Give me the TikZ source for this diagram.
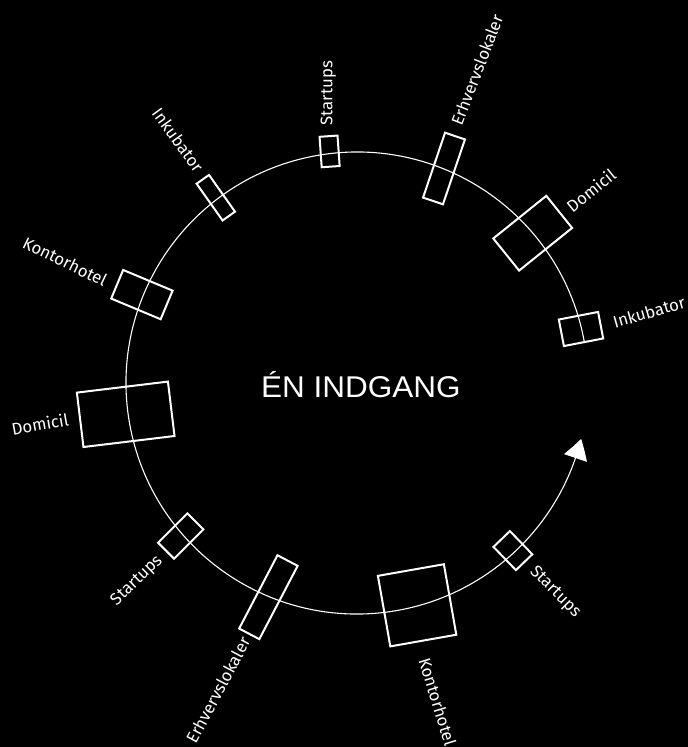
\documentclass[tikz,border=0pt]{standalone}
\usepackage{fontspec}
\setmainfont{Fira Sans}
\newfontfamily\titlefont{Liberation Sans}
\usetikzlibrary{arrows.meta,bending}
\begin{document}
\begin{tikzpicture}[x=1pt,y=1pt,
  rbox/.style 2 args={draw=white,line width=2pt,inner sep=0pt,minimum width=#1pt,minimum height=#2pt},
  lab/.style={text=white,inner sep=0pt,font=\fontsize{16.8}{18}\selectfont},
  ring/.style={draw=white,line width=1.1pt}]
\fill[black] (0,0) rectangle (688,-747);
\useasboundingbox (0,0) rectangle (688,-747);
\coordinate (c) at (357,-383);
\draw[ring,-{Triangle[length=20pt,width=24pt,bend]}] ([shift={(10:231)}]c) arc[start angle=10,end angle=346,radius=231];
% boxes
\node[rbox={18}{30.5},rotate=4] (b1) at (329.6,-151.4) {};
\node[rbox={21}{68.5},rotate=-18.7] (b2) at (444,-168.5) {};
\node[rbox={68}{41.2},rotate=38.8] (b3) at (532.7,-233.2) {};
\node[rbox={40}{27},rotate=10.9] (b4) at (581,-329) {};
\node[rbox={45}{15.2},rotate=-54.7] (b5) at (215.8,-197.7) {};
\node[rbox={53.6}{31},rotate=-22.7] (b6) at (141.9,-294.6) {};
\node[rbox={91.7}{54.8},rotate=6.9] (b7) at (125.7,-414.3) {};
\node[rbox={41.5}{22.6},rotate=45] (b8) at (180.7,-536) {};
\node[rbox={82.7}{22.8},rotate=62.4] (b9) at (268.4,-597.2) {};
\node[rbox={67}{71.6},rotate=10] (b10) at (417.1,-605.3) {};
\node[rbox={32.3}{22.8},rotate=-46] (b11) at (512.9,-550.6) {};
% labels
\node[lab,rotate=90] (t1) at (328.3,-93.3) {Startups};
\node[lab,rotate=69] (t2) at (477,-70) {Erhvervslokaler};
\node[lab,rotate=39] (t3) at (591,-190) {Domicil};
\node[lab,rotate=16] (t4) at (649,-312) {Inkubator};
\node[lab,rotate=-54] (t5) at (178,-140) {Inkubator};
\node[lab,rotate=-26] (t6) at (65,-261.5) {Kontorhotel};
\node[lab,rotate=10] (t7) at (40,-424) {Domicil};
\node[lab,rotate=44] (t8) at (137,-581) {Startups};
\node[lab,rotate=62] (t9) at (218,-690) {Erhvervslokaler};
\node[lab,rotate=-73] (t10) at (437.6,-702) {Kontorhotel};
\node[lab,rotate=-45] (t11) at (555,-592) {Startups};
% title
\node[text=white,inner sep=0pt,anchor=base,xscale=1.05,font=\titlefont\fontsize{30}{32}\selectfont] (title) at (360.9,-397.7) {ÉN INDGANG};
\end{tikzpicture}
\end{document}
